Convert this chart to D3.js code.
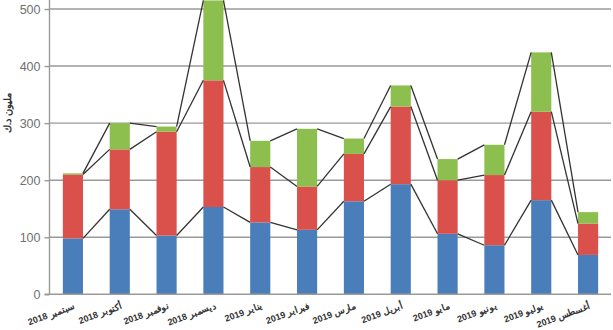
<!DOCTYPE html>
<html><head><meta charset="utf-8">
<script src="https://cdn.jsdelivr.net/npm/d3@7"></script>
<style>body{margin:0;background:#fff}svg{display:block}</style>
</head><body>
<svg id="c" width="613" height="330"></svg>
<script>
const months = ["سبتمبر 2018","أكتوبر 2018","نوفمبر 2018","ديسمبر 2018","يناير 2019","فبراير 2019","مارس 2019","أبريل 2019","مايو 2019","يونيو 2019","يوليو 2019","أغسطس 2019"];
const seriesBlue  = [98,149,103,153,126,113,163,193,106,86,165,69];
const seriesRed   = [112,105,182,222,97,76,83,136,94,123,155,55];
const seriesGreen = [2,46,9,140,46,101,27,37,37,53,104,20];
const yTicks = [0,100,200,300,400,500];
const yTitle = "مليون د.ك";

const colors = ["#4a7ebb","#da504b","#8cbf4e"];
const svg = d3.select("#c");
const x = d3.scaleBand().domain(months).range([49.5, 611.5]).paddingInner(0.57).paddingOuter(0.285);
const y = d3.scaleLinear().domain([0,500]).range([294.3, 9]);

// gridlines
svg.append("g").selectAll("line").data(yTicks.filter(d=>d>0)).join("line")
  .attr("x1",49.5).attr("x2",611).attr("y1",d=>y(d)).attr("y2",d=>y(d))
  .attr("stroke","#9c9a98").attr("stroke-width",1.4);

const data = months.map((m,i)=>({m, v:[seriesBlue[i],seriesRed[i],seriesGreen[i]]}));
const stack = d3.stack().keys([0,1,2]).value((d,k)=>d.v[k]);
const layers = stack(data);

svg.append("g").selectAll("g").data(layers).join("g").attr("fill",(d,i)=>colors[i])
  .selectAll("rect").data(d=>d).join("rect")
  .attr("x",d=>x(d.data.m)).attr("width",x.bandwidth())
  .attr("y",d=>y(d[1])).attr("height",d=>y(d[0])-y(d[1]));

// series lines
const bw = x.bandwidth();
const lines = svg.append("g").attr("stroke","#333").attr("stroke-width",1.3).attr("fill","none");
layers.forEach(layer=>{
  for(let i=0;i<layer.length-1;i++){
    lines.append("line")
      .attr("x1",x(months[i])+bw).attr("y1",y(layer[i][1]))
      .attr("x2",x(months[i+1])).attr("y2",y(layer[i+1][1]));
  }
});

// axes
const ya = svg.append("g").attr("transform","translate(49.5,0)")
  .call(d3.axisLeft(y).tickValues(yTicks).tickSize(5).tickPadding(4).tickFormat(d3.format("d")));
ya.select(".domain").attr("stroke","#9c9a98").attr("stroke-width",1.4).attr("d","M0,0V294.3");
ya.selectAll(".tick line").attr("stroke","#9c9a98").attr("stroke-width",1.4);
ya.selectAll(".tick text").attr("fill","#707070").attr("font-family","Liberation Sans, Arial").attr("font-size",12.5);

svg.append("line").attr("x1",44.5).attr("x2",611).attr("y1",y(0)).attr("y2",y(0))
  .attr("stroke","#9c9a98").attr("stroke-width",1.6);

// x labels
svg.append("g").selectAll("text").data(months).join("text")
  .attr("transform",d=>`translate(${x(d)+bw/2+3},${y(0)+14}) rotate(-20)`)
  .attr("text-anchor","end").attr("font-family","Liberation Sans, Arial")
  .attr("font-size",9).attr("font-weight","bold").attr("fill","#333")
  .text(d=>d);

// y title
svg.append("text").attr("transform","translate(11,113) rotate(-90)")
  .attr("text-anchor","middle").attr("font-family","Liberation Sans, Arial")
  .attr("font-size",9.5).attr("font-weight","bold").attr("fill","#333").text(yTitle);
</script>
</body></html>
